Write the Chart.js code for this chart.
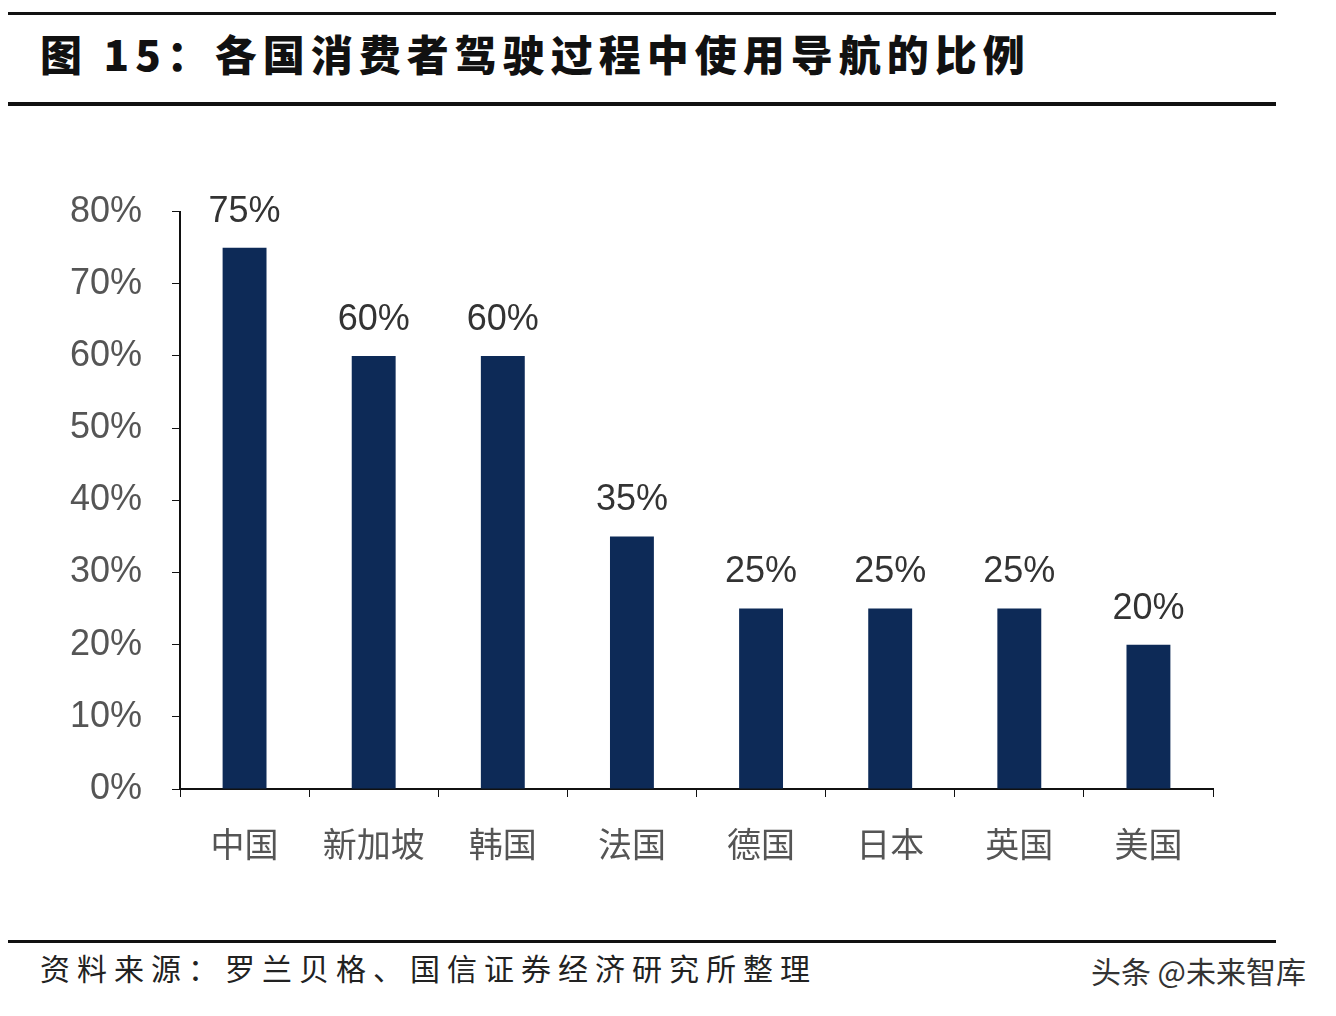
<!DOCTYPE html>
<html>
<head>
<meta charset="utf-8">
<script src="https://cdn.jsdelivr.net/npm/chart.js@4/dist/chart.umd.min.js"></script>
<style>
  body { margin: 0; width: 1336px; height: 1016px; background: #fff; position: relative; overflow: hidden;
         font-family: "Noto Sans CJK SC", "Noto Sans", sans-serif; }
  .rule { position: absolute; left: 8px; width: 1268px; background: #111; }
  #title { position: absolute; left: 40px; top: 22px; font-size: 42px; font-weight: 900; color: #111; letter-spacing: 6px; }
  #chartBox { position: absolute; left: 0; top: 160px; width: 1336px; height: 720px; }
  #source { position: absolute; left: 40px; top: 945px; font-size: 30px; color: #222; letter-spacing: 7px; }
  #mark { position: absolute; right: 30px; top: 948px; font-size: 30px; color: #333; }
</style>
</head>
<body>
<div class="rule" style="top:12px;height:3px"></div>
<div id="title">图 15：各国消费者驾驶过程中使用导航的比例</div>
<div class="rule" style="top:102px;height:4px"></div>
<div id="chartBox"><canvas id="chart"></canvas></div>
<div class="rule" style="top:940px;height:3px"></div>
<div id="source">资料来源：罗兰贝格、国信证券经济研究所整理</div>
<div id="mark">头条 @未来智库</div>
<script>
  const categories = ["中国", "新加坡", "韩国", "法国", "德国", "日本", "英国", "美国"];
  const shares = [75, 60, 60, 35, 25, 25, 25, 20];

  const valueLabels = {
    id: "valueLabels",
    afterDatasetsDraw(chart) {
      const ctx = chart.ctx;
      const meta = chart.getDatasetMeta(0);
      ctx.save();
      ctx.font = "36px 'Liberation Sans', sans-serif";
      ctx.fillStyle = "#333";
      ctx.textAlign = "center";
      ctx.textBaseline = "bottom";
      meta.data.forEach((bar, i) => {
        ctx.fillText(shares[i] + "%", bar.x, bar.y - 18);
      });
      ctx.restore();
    },
  };

  new Chart(document.getElementById("chart"), {
    type: "bar",
    data: {
      labels: categories,
      datasets: [{
        data: shares,
        backgroundColor: "#0d2a57",
        barPercentage: 0.34,
        categoryPercentage: 1,
      }],
    },
    options: {
      responsive: true,
      maintainAspectRatio: false,
      animation: false,
      layout: { padding: { top: 8, right: 123, left: 0, bottom: 0 } },
      plugins: { legend: { display: false }, tooltip: { enabled: false } },
      scales: {
        x: {
          afterFit: (s) => { s.height = 91; },
          border: { color: "#111", width: 2 },
          grid: { offset: true, drawOnChartArea: false, tickLength: 8, color: "#111" },
          ticks: { color: "#555", font: { size: 34, family: "'Noto Sans CJK SC'" }, padding: 27 },
        },
        y: {
          min: 0, max: 80,
          afterFit: (s) => { s.width = 180; },
          border: { color: "#111", width: 2 },
          grid: { drawOnChartArea: false, tickLength: 8, color: "#111" },
          ticks: {
            stepSize: 10, color: "#555", padding: 30,
            font: { size: 36, family: "'Liberation Sans', sans-serif" },
            callback: (v) => v + "%",
          },
        },
      },
    },
    plugins: [valueLabels],
  });
</script>
</body>
</html>
